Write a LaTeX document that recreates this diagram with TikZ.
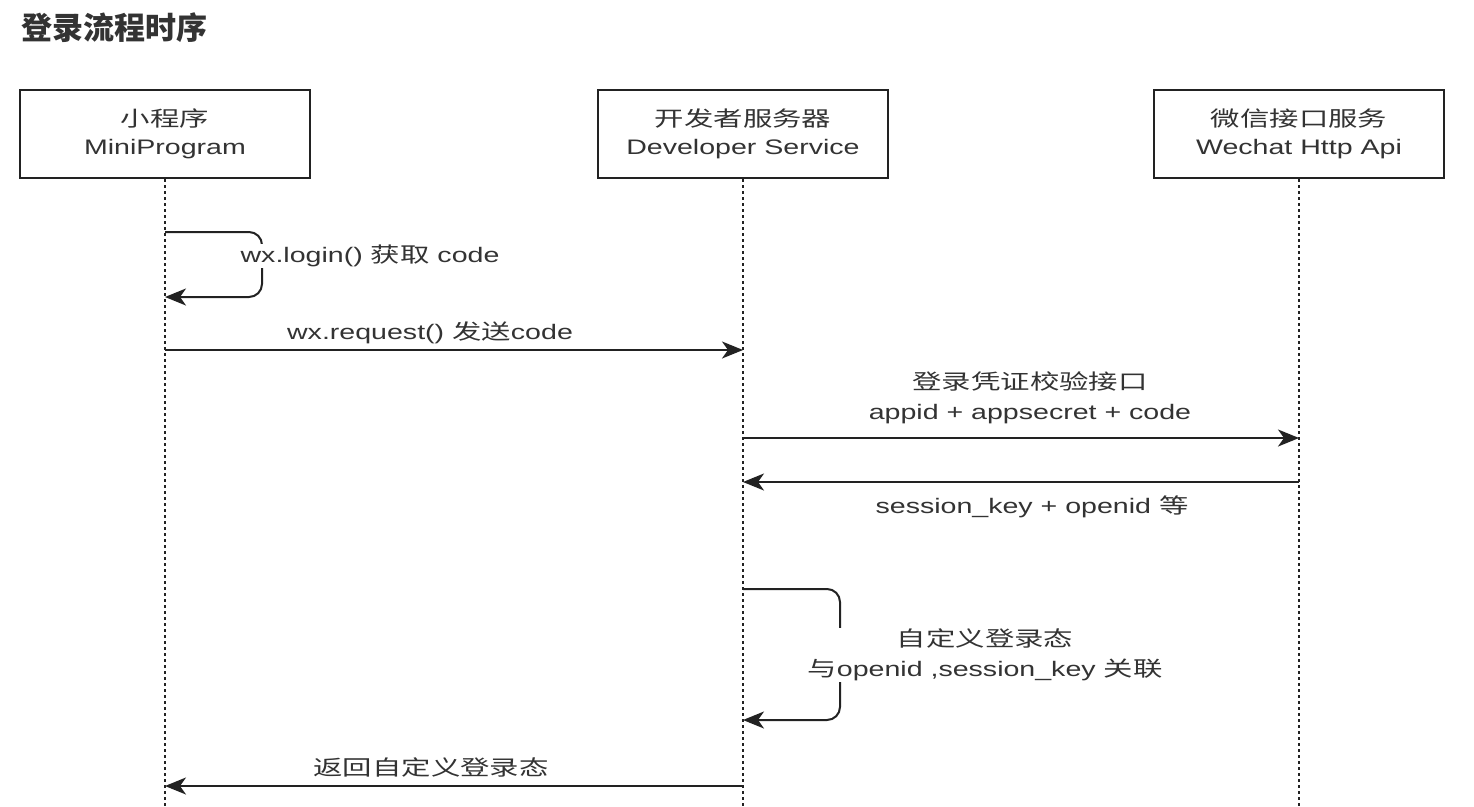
\documentclass[tikz,border=0pt]{standalone}
\usepackage{fontspec}
\setmainfont[FakeStretch=1.36]{Liberation Sans}
\newfontfamily\zh[FakeStretch=1.4]{Noto Sans CJK SC}
\newfontfamily\zht{Noto Sans CJK SC}
\usetikzlibrary{arrows.meta}
\definecolor{ink}{HTML}{222222}
\definecolor{txt}{HTML}{333333}
\tikzset{
  actor/.style={draw=ink, line width=2pt, minimum width=290pt, minimum height=88pt,
    align=center, text=txt, font=\fontsize{21}{28}\selectfont, inner sep=0pt},
  life/.style={draw=ink, line width=1.8pt, dash pattern=on 3pt off 3pt},
  tipc/.tip={Stealth[length=21pt,width=17pt,inset=6pt]},
  msg/.style={draw=ink, line width=2pt, -tipc},
  lbl/.style={text=txt, align=center, font=\fontsize{21}{30}\selectfont, inner sep=1pt},
}
\begin{document}
\begin{tikzpicture}[x=1pt,y=-1pt]
\path[use as bounding box, fill=white] (0,0) rectangle (1474,806);
\node[text=txt, anchor=west, font=\fontsize{31}{33}\selectfont] (title) at (18,28) {\zht\bfseries 登录流程时序};

\node[actor] (a) at (165,134) {{\zh 小程序}\\MiniProgram};
\node[actor] (b) at (743,134) {{\zh 开发者服务器}\\Developer Service};
\node[actor] (c) at (1299,134) {{\zh 微信接口服务}\\Wechat Http Api};

\coordinate (aend) at (165,806);
\coordinate (bend) at (743,806);
\coordinate (cend) at (1299,806);
\draw[life] (a.south) -- (aend);
\draw[life] (b.south) -- (bend);
\draw[life] (c.south) -- (cend);

% self loop 1
\coordinate (a1) at (165,232);
\coordinate (a2) at (165,297);
\draw[msg, rounded corners=13pt] (a1) -- (262,232) -- (262,297) -- (a2);
\node[lbl, fill=white] (l1) at (370,256) {wx.login() {\zh 获取} code};

% request
\coordinate (a3) at (165,350);
\coordinate (b3) at (743,350);
\draw[msg] (a3) -- (b3);
\node[lbl] (l2) at (430,333) {wx.request() {\zh 发送}code};

% to wechat
\coordinate (b4) at (743,438);
\coordinate (c4) at (1299,438);
\draw[msg] (b4) -- (c4);
\node[lbl] (l3) at (1030,398) {{\zh 登录凭证校验接口}\\appid + appsecret + code};

% back
\coordinate (c5) at (1299,482);
\coordinate (b5) at (743,482);
\draw[msg] (c5) -- (b5);
\node[lbl] (l4) at (1032,507) {session\_key + openid {\zh 等}};

% self loop 2
\coordinate (b6) at (743,589);
\coordinate (b7) at (743,720);
\draw[msg, rounded corners=13pt] (b6) -- (840,589) -- (840,720) -- (b7);
\node[lbl, fill=white] (l5) at (985,655) {{\zh 自定义登录态}\\{\zh 与}openid ,session\_key {\zh 关联}};

% return
\coordinate (b8) at (743,786);
\coordinate (a8) at (165,786);
\draw[msg] (b8) -- (a8);
\node[lbl] (l6) at (431,767) {\zh 返回自定义登录态};
\end{tikzpicture}
\end{document}
